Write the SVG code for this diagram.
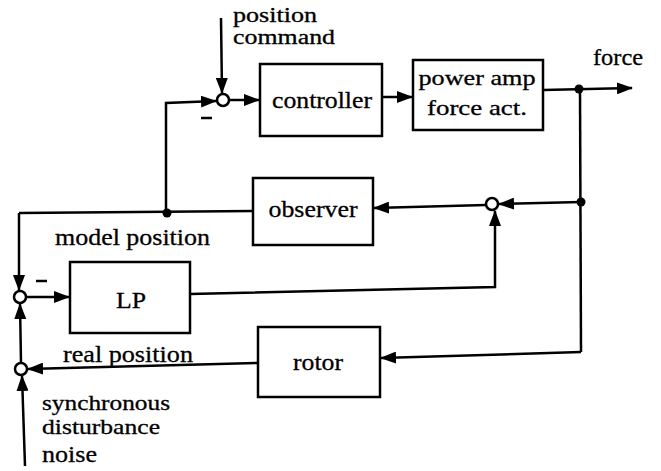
<svg xmlns="http://www.w3.org/2000/svg" width="661" height="471" viewBox="0 0 661 471">
<style>
.box{fill:#fff;stroke:#000;stroke-width:2.5}
.ln{fill:none;stroke:#000;stroke-width:2.5}
.arr{fill:none;stroke:#000;stroke-width:2.5;marker-end:url(#ah)}
.sum{fill:#fff;stroke:#000;stroke-width:2.5}
.dot{fill:#000}
.t{font-size:24px;fill:#000;stroke:#000;stroke-width:0.3}
.s{font-size:21px}
.xs{font-size:20px}
.c{text-anchor:middle}
</style>
<defs>
<marker id="ah" markerUnits="userSpaceOnUse" markerWidth="16" markerHeight="12" refX="15" refY="6" orient="auto">
<path d="M0,0 L16,6 L0,12 z" fill="#000"/>
</marker>
</defs>
<g id="connectors">
<path class="arr" d="M221,18 L222,93"/>
<path class="arr" d="M166,213 L166,103 L216,101"/>
<path class="arr" d="M229,100 L259,100"/>
<path class="arr" d="M382,97 L412,97"/>
<path class="arr" d="M543,90 L632,88"/>
<path class="ln" d="M580,89 L581,352"/>
<path class="arr" d="M581,202 L499,204"/>
<path class="arr" d="M486,205 L374,208"/>
<path class="ln" d="M253,211 L19,213"/>
<path class="arr" d="M19,213 L19,290"/>
<path class="arr" d="M26,297 L69,297"/>
<path class="arr" d="M190,294 L495,287 L495,211"/>
<path class="arr" d="M21,363 L20,304"/>
<path class="arr" d="M581,352 L381,358"/>
<path class="arr" d="M258,363 L28,369"/>
<path class="arr" d="M25,466 L22,376"/>
<circle class="dot" cx="167" cy="213" r="4.5"/>
<circle class="dot" cx="579" cy="89" r="4.5"/>
<circle class="dot" cx="581" cy="202" r="4.5"/>
</g>
<g id="sum1"><circle class="sum" cx="223" cy="100" r="6"/><path class="ln" d="M201,118 L212,118"/></g>
<g id="sum2"><circle class="sum" cx="492" cy="204" r="6"/></g>
<g id="sum3"><circle class="sum" cx="20" cy="297" r="6"/><path class="ln" d="M36,281 L47,281"/></g>
<g id="sum4"><circle class="sum" cx="21" cy="369" r="6"/></g>
<g font-family="Liberation Serif, Times New Roman, Noto Serif, DejaVu Serif, serif">
<g id="controller"><rect class="box" x="260" y="64" width="122" height="72"/><text class="t c" x="322" y="108" textLength="100" lengthAdjust="spacingAndGlyphs">controller</text></g>
<g id="poweramp"><rect class="box" x="413" y="60" width="130" height="70"/><text class="t s c" x="477" y="85" textLength="117" lengthAdjust="spacingAndGlyphs">power amp</text><text class="t s c" x="477" y="115" textLength="100" lengthAdjust="spacingAndGlyphs">force act.</text></g>
<g id="observer"><rect class="box" x="253" y="178" width="120" height="67"/><text class="t c" x="313" y="217" textLength="89" lengthAdjust="spacingAndGlyphs">observer</text></g>
<g id="lp"><rect class="box" x="70" y="262" width="120" height="71"/><text class="t c" x="131" y="308" textLength="30" lengthAdjust="spacingAndGlyphs">LP</text></g>
<g id="rotor"><rect class="box" x="258" y="327" width="122" height="70"/><text class="t c" x="318" y="370" textLength="50" lengthAdjust="spacingAndGlyphs">rotor</text></g>
<g id="labels">
<text class="t xs" x="233" y="22" textLength="84" lengthAdjust="spacingAndGlyphs">position</text>
<text class="t xs" x="233" y="44" textLength="102" lengthAdjust="spacingAndGlyphs">command</text>
<text class="t" x="593" y="65" textLength="50" lengthAdjust="spacingAndGlyphs">force</text>
<text class="t" x="55" y="245" textLength="155" lengthAdjust="spacingAndGlyphs">model position</text>
<text class="t" x="63" y="362" textLength="130" lengthAdjust="spacingAndGlyphs">real position</text>
<text class="t s" x="42" y="410" textLength="128" lengthAdjust="spacingAndGlyphs">synchronous</text>
<text class="t s" x="42" y="434" textLength="118" lengthAdjust="spacingAndGlyphs">disturbance</text>
<text class="t" x="42" y="462" textLength="55" lengthAdjust="spacingAndGlyphs">noise</text>
</g>
</g>
</svg>
